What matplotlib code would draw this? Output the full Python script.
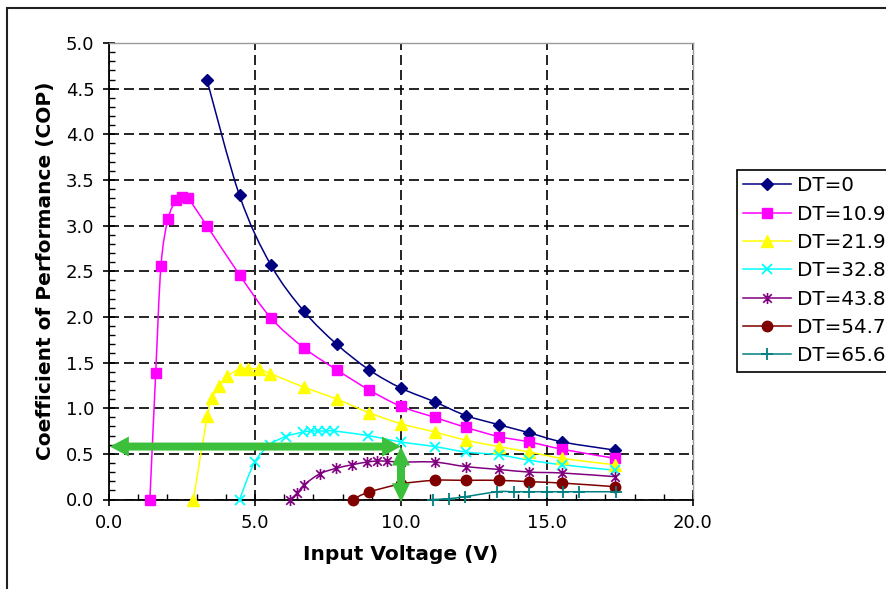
import matplotlib
matplotlib.use("Agg")
import matplotlib.pyplot as plt
from matplotlib.path import Path
from matplotlib.patches import PathPatch, Rectangle, FancyArrow
from matplotlib.lines import Line2D
from matplotlib.ticker import MultipleLocator, FormatStrFormatter

# ---- data: input voltage (V) vs coefficient of performance per temperature difference ----
labels = ["DT=0", "DT=10.9", "DT=21.9", "DT=32.8", "DT=43.8", "DT=54.7", "DT=65.6"]

v_dt0 = [3.35, 4.47, 5.54, 6.68, 7.80, 8.91, 10.0, 11.15, 12.22, 13.34, 14.40, 15.53, 17.34]
cop_dt0 = [4.60, 3.33, 2.57, 2.06, 1.70, 1.42, 1.22, 1.07, 0.92, 0.82, 0.73, 0.63, 0.54]

v_dt10 = [1.40, 1.60, 1.78, 2.02, 2.30, 2.49, 2.70, 3.35, 4.47, 5.54, 6.68, 7.80,
          8.91, 10.0, 11.15, 12.22, 13.34, 14.40, 15.53, 17.34]
cop_dt10 = [0.0, 1.39, 2.56, 3.07, 3.28, 3.31, 3.30, 3.00, 2.46, 1.99, 1.66, 1.42,
            1.20, 1.02, 0.90, 0.79, 0.69, 0.63, 0.55, 0.45]

v_dt21 = [2.89, 3.37, 3.53, 3.76, 4.05, 4.48, 4.77, 5.12, 5.52, 6.68, 7.80,
          8.91, 10.0, 11.15, 12.22, 13.34, 14.40, 15.53, 17.34]
cop_dt21 = [0.0, 0.92, 1.11, 1.24, 1.35, 1.43, 1.43, 1.43, 1.38, 1.23, 1.10,
            0.95, 0.83, 0.74, 0.65, 0.58, 0.52, 0.45, 0.38]

v_dt32 = [4.47, 4.99, 5.52, 6.06, 6.66, 6.92, 7.15, 7.42, 7.72, 8.87,
          10.0, 11.15, 12.22, 13.34, 14.40, 15.53, 17.34]
cop_dt32 = [0.0, 0.41, 0.60, 0.69, 0.74, 0.75, 0.75, 0.75, 0.75, 0.70,
            0.63, 0.58, 0.52, 0.49, 0.43, 0.38, 0.32]

v_dt43 = [6.20, 6.45, 6.68, 7.21, 7.76, 8.32, 8.83, 9.17, 9.52,
          10.0, 11.15, 12.22, 13.34, 14.40, 15.53, 17.34]
cop_dt43 = [0.0, 0.07, 0.16, 0.28, 0.34, 0.38, 0.41, 0.42, 0.42,
            0.41, 0.41, 0.36, 0.33, 0.30, 0.29, 0.25]

v_dt54 = [8.34, 8.89, 10.0, 11.15, 12.22, 13.34, 14.40, 15.53, 17.34]
cop_dt54 = [0.0, 0.08, 0.17, 0.21, 0.21, 0.21, 0.195, 0.18, 0.14]

v_dt65 = [11.11, 11.65, 12.18, 13.30, 13.86, 14.40, 15.00, 15.55, 16.10, 17.36]
cop_dt65 = [0.0, 0.01, 0.03, 0.085, 0.085, 0.085, 0.085, 0.085, 0.085, 0.085]

# operating point marked by the green arrows
op_voltage = 10.0
op_cop = 0.58

x_ticks = [0.0, 5.0, 10.0, 15.0, 20.0]
y_ticks = [0.0, 0.5, 1.0, 1.5, 2.0, 2.5, 3.0, 3.5, 4.0, 4.5, 5.0]

# ---- styles ----
star = Path([(-1, -1), (1, 1), (-1, 1), (1, -1), (0, -1.3), (0, 1.3)],
            [Path.MOVETO, Path.LINETO, Path.MOVETO, Path.LINETO, Path.MOVETO, Path.LINETO])
styles = [
    dict(color="#000080", marker="D", ms=6.5, mfc="#000080", mec="#000080"),
    dict(color="#FF00FF", marker="s", ms=7.5, mfc="#FF00FF", mec="#FF00FF"),
    dict(color="#FFFF00", marker="^", ms=8.5, mfc="#FFFF00", mec="#FFFF00"),
    dict(color="#00FFFF", marker="x", ms=7.0, mfc="#00FFFF", mec="#00FFFF", mew=1.3),
    dict(color="#800080", marker=star, ms=8.0, mfc="#800080", mec="#800080", mew=1.2),
    dict(color="#800000", marker="o", ms=7.5, mfc="#800000", mec="#800000"),
    dict(color="#008080", marker="+", ms=9.0, mfc="#008080", mec="#008080", mew=1.3),
]
series = [(v_dt0, cop_dt0), (v_dt10, cop_dt10), (v_dt21, cop_dt21), (v_dt32, cop_dt32),
          (v_dt43, cop_dt43), (v_dt54, cop_dt54), (v_dt65, cop_dt65)]


def smooth_path(xs, ys):
    """Cubic Bezier path through the points (Catmull-Rom style tangents)."""
    pts = list(zip(xs, ys))
    verts = [pts[0]]
    codes = [Path.MOVETO]
    n = len(pts)
    for i in range(n - 1):
        p0 = pts[i - 1] if i > 0 else pts[i]
        p1 = pts[i]
        p2 = pts[i + 1]
        p3 = pts[i + 2] if i + 2 < n else pts[i + 1]
        c1 = (p1[0] + (p2[0] - p0[0]) / 6.0, p1[1] + (p2[1] - p0[1]) / 6.0)
        c2 = (p2[0] - (p3[0] - p1[0]) / 6.0, p2[1] - (p3[1] - p1[1]) / 6.0)
        verts += [c1, c2, p2]
        codes += [Path.CURVE4, Path.CURVE4, Path.CURVE4]
    return Path(verts, codes)


plt.rcParams["font.family"] = ["DejaVu Sans"]
fig = plt.figure(figsize=(8.87, 5.89), dpi=100)

# outer chart border
fig.patches.append(Rectangle((7 / 887, -0.05), 1.1, 1 - 8 / 589 + 0.05,
                             transform=fig.transFigure, fill=False,
                             edgecolor="#202020", linewidth=1.5, zorder=0))

ax = fig.add_axes([109 / 887, 1 - 499.5 / 589, (693 - 109) / 887, (499.5 - 43) / 589])
ax.set_xlim(0, 20)
ax.set_ylim(0, 5)

handles = []
for (xs, ys), st, lab in zip(series, styles, labels):
    ax.add_patch(PathPatch(smooth_path(xs, ys), fill=False, edgecolor=st["color"],
                           linewidth=1.1, zorder=3))
    ax.plot(xs, ys, linestyle="none", marker=st["marker"], ms=st["ms"], mfc=st["mfc"],
            mec=st["mec"], mew=st.get("mew", 1.0), zorder=4, clip_on=False)
    handles.append(Line2D([], [], color=st["color"], linewidth=1.1, marker=st["marker"],
                          ms=st["ms"], mfc=st["mfc"], mec=st["mec"], mew=st.get("mew", 1.0),
                          label=lab))

# green arrows marking the operating point
green = "#3CC03C"
xpx = 29.2  # pixels per volt
ypx = 91.3  # pixels per COP unit
ax.add_patch(FancyArrow(op_voltage / 2, op_cop, -op_voltage / 2 + 0.03, 0,
                        width=8 / ypx, head_width=20 / ypx, head_length=19 / xpx,
                        length_includes_head=True, color=green, zorder=6, lw=0))
ax.add_patch(FancyArrow(op_voltage / 2, op_cop, op_voltage / 2, 0,
                        width=8 / ypx, head_width=20 / ypx, head_length=19 / xpx,
                        length_includes_head=True, color=green, zorder=6, lw=0))
ax.add_patch(FancyArrow(op_voltage, op_cop / 2, 0, op_cop / 2,
                        width=8 / xpx, head_width=18 / xpx, head_length=19 / ypx,
                        length_includes_head=True, color=green, zorder=6, lw=0))
ax.add_patch(FancyArrow(op_voltage, op_cop / 2, 0, -op_cop / 2 - 0.03,
                        width=8 / xpx, head_width=18 / xpx, head_length=19 / ypx,
                        length_includes_head=True, color=green, zorder=6, lw=0,
                        clip_on=False))

# axes, ticks, grid
ax.set_xticks(x_ticks)
ax.set_yticks(y_ticks)
ax.xaxis.set_minor_locator(MultipleLocator(1.0))
ax.yaxis.set_minor_locator(MultipleLocator(0.1))
ax.xaxis.set_major_formatter(FormatStrFormatter("%.1f"))
ax.yaxis.set_major_formatter(FormatStrFormatter("%.1f"))
ax.tick_params(which="major", direction="inout", length=9, width=1.2, labelsize=13,
               colors="black")
ax.tick_params(axis="y", which="major", pad=6)
ax.tick_params(axis="x", which="major", pad=6)
ax.tick_params(which="minor", direction="in", length=4, width=1.0)
ax.grid(True, which="major", color="black", linestyle=(0, (6, 3)), linewidth=1.2, zorder=1)
ax.set_axisbelow(True)
for side in ("left", "bottom"):
    ax.spines[side].set_color("black")
    ax.spines[side].set_linewidth(1.3)
for side in ("top", "right"):
    ax.spines[side].set_color("#9a9a9a")
    ax.spines[side].set_linewidth(1.0)

ax.set_xlabel("Input Voltage (V)", fontsize=14.5, fontweight="bold", labelpad=9)
ax.set_ylabel("Coefficient of Performance (COP)", fontsize=14.5, fontweight="bold",
              labelpad=8)

leg = fig.legend(handles=handles, loc="upper left",
                 bbox_to_anchor=(737 / 887, 1 - 170 / 589), fontsize=14.3,
                 frameon=True, fancybox=False, edgecolor="black", framealpha=1,
                 handlelength=2.4, handletextpad=0.3, labelspacing=0.47,
                 borderpad=0.32, borderaxespad=0)
leg.get_frame().set_linewidth(1.2)

fig.savefig("out.png", dpi=100)
